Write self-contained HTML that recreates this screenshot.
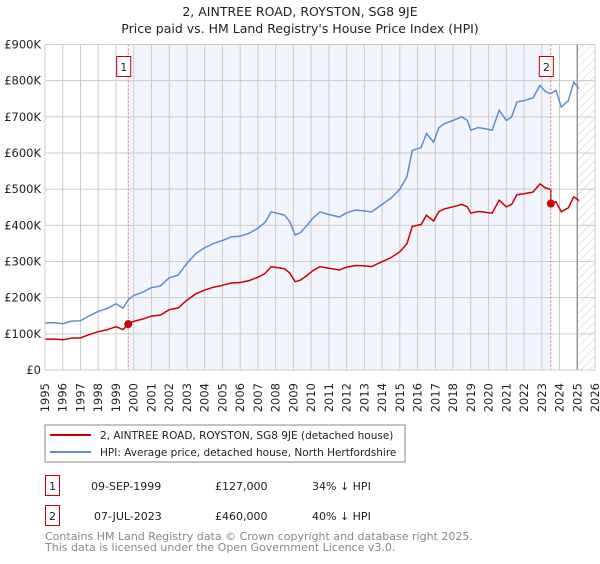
<!DOCTYPE html>
<html><head><meta charset="utf-8"><style>
body{margin:0;background:#fff;width:600px;height:560px;overflow:hidden;font-family:"DejaVu Sans","Liberation Sans",sans-serif}
svg text{font-family:"DejaVu Sans","Liberation Sans",sans-serif}
</style></head><body>
<svg id="c" width="600" height="560">
<defs><pattern id="hatch" width="6" height="6" patternUnits="userSpaceOnUse" patternTransform="rotate(45)"><line x1="0" y1="0" x2="0" y2="6" stroke="#ccc" stroke-width="1"/></pattern></defs>
<text x="300" y="16" text-anchor="middle" font-size="12.5" fill="#222">2, AINTREE ROAD, ROYSTON, SG8 9JE</text>
<text x="300" y="33" text-anchor="middle" font-size="12.5" fill="#222">Price paid vs. HM Land Registry's House Price Index (HPI)</text>
<g id="plot"></g>
<rect x="45" y="425" width="360" height="37" fill="#fff" stroke="#888"/>
<line x1="50" y1="435" x2="91" y2="435" stroke="#cc0000" stroke-width="2"/>
<text x="100" y="439" font-size="10.5" fill="#222">2, AINTREE ROAD, ROYSTON, SG8 9JE (detached house)</text>
<line x1="50" y1="452" x2="91" y2="452" stroke="#5b8fd0" stroke-width="2"/>
<text x="100" y="456" font-size="10.5" fill="#222">HPI: Average price, detached house, North Hertfordshire</text>
<g>
<rect x="45.5" y="475.5" width="14" height="20" fill="#fff" stroke="#cc0000"/>
<text x="52.5" y="490" text-anchor="middle" font-size="11" fill="#222">1</text>
<text x="91" y="490" font-size="11" fill="#222">09-SEP-1999</text>
<text x="215" y="490" font-size="11" fill="#222">£127,000</text>
<text x="312" y="490" font-size="11" fill="#222">34% ↓ HPI</text></g>
<g>
<rect x="45.5" y="505.5" width="14" height="20" fill="#fff" stroke="#cc0000"/>
<text x="52.5" y="520" text-anchor="middle" font-size="11" fill="#222">2</text>
<text x="94" y="520" font-size="11" fill="#222">07-JUL-2023</text>
<text x="215" y="520" font-size="11" fill="#222">£460,000</text>
<text x="312" y="520" font-size="11" fill="#222">40% ↓ HPI</text></g>
<text x="45" y="540" font-size="11" fill="#888">Contains HM Land Registry data © Crown copyright and database right 2025.</text>
<text x="45" y="551" font-size="11" fill="#888">This data is licensed under the Open Government Licence v3.0.</text>
</svg>
<script>
const hpiYears=[1995.0,1995.5,1996.0,1996.5,1997.0,1997.5,1998.0,1998.5,1999.0,1999.4,1999.7,2000.0,2000.5,2001.0,2001.5,2002.0,2002.5,2003.0,2003.5,2004.0,2004.5,2005.0,2005.5,2006.0,2006.5,2007.0,2007.4,2007.75,2008.2,2008.5,2008.8,2009.1,2009.4,2009.7,2010.1,2010.5,2011.0,2011.6,2012.0,2012.5,2013.0,2013.4,2014.0,2014.5,2015.0,2015.4,2015.7,2016.2,2016.5,2016.9,2017.2,2017.5,2018.0,2018.5,2018.8,2019.0,2019.4,2019.7,2020.2,2020.6,2021.0,2021.3,2021.6,2022.0,2022.5,2022.9,2023.2,2023.5,2023.8,2024.1,2024.5,2024.8,2025.1];
const hpiValues=[130,131,128,135,136,150,162,170,183,171,195,206,215,228,232,255,262,295,322,338,350,358,368,370,378,392,408,437,432,428,410,373,380,396,420,437,430,423,435,442,440,437,458,475,500,534,607,615,654,630,670,681,690,700,690,663,670,668,663,718,690,700,741,745,752,787,770,764,773,727,745,796,778];
const saleYears=[1999.69,2023.51];
const salePrices=[127,460];
const yTicks=[0,100,200,300,400,500,600,700,800,900];
const yTickLabels=["£0","£100K","£200K","£300K","£400K","£500K","£600K","£700K","£800K","£900K"];
const xTicks=[1995,1996,1997,1998,1999,2000,2001,2002,2003,2004,2005,2006,2007,2008,2009,2010,2011,2012,2013,2014,2015,2016,2017,2018,2019,2020,2021,2022,2023,2024,2025,2026];
const X0=45,X1=595,Y0=370,Y1=44.5;
const xs=y=>X0+(y-1995)/(2026-1995)*(X1-X0);
const ys=v=>Y0-v/900*(Y0-Y1);
const NS='http://www.w3.org/2000/svg';
const g=document.getElementById('plot');
function mk(t,a,p){const e=document.createElementNS(NS,t);for(const k in a)e.setAttribute(k,a[k]);(p||g).appendChild(e);return e;}
function hpiAt(t){for(let i=0;i<hpiYears.length-1;i++){if(t<=hpiYears[i+1]){const f=(t-hpiYears[i])/(hpiYears[i+1]-hpiYears[i]);return hpiValues[i]+f*(hpiValues[i+1]-hpiValues[i]);}}return hpiValues[hpiValues.length-1];}
let r=mk('rect',{x:xs(saleYears[0]),y:Y1,width:xs(saleYears[1])-xs(saleYears[0]),height:Y0-Y1,fill:'#f2f5fd'});


let h=mk('rect',{x:xs(2025),y:Y1,width:X1-xs(2025),height:Y0-Y1,fill:'url(#hatch)'});


yTicks.forEach((v,i)=>{let l=mk('line',{x1:X0,x2:X1,y1:ys(v),y2:ys(v),stroke:'#ccc'});


let t=mk('text',{x:X0-4,y:ys(v)+4,'text-anchor':'end','font-size':'11.5',fill:'#222'});t.textContent=yTickLabels[i];

});
xTicks.forEach(y=>{let l=mk('line',{x1:xs(y),x2:xs(y),y1:Y1,y2:Y0,stroke:'#ccc'});


let t=mk('text',{x:0,y:0,'text-anchor':'end','font-size':'11.5',fill:'#222',transform:`translate(${xs(y)+4},383) rotate(-90)`});t.textContent=y;

});
let ax=mk('line',{x1:xs(2025),x2:xs(2025),y1:Y1,y2:Y0,stroke:'#999','stroke-width':1.5});


let hp=mk('polyline',{fill:'none',stroke:'#5b8fd0','stroke-width':1.5,points:hpiYears.map((y,i)=>xs(y)+','+ys(hpiValues[i])).join(' ')});


const r1=salePrices[0]/hpiAt(saleYears[0]),r2=salePrices[1]/hpiAt(saleYears[1]);
const pts=[];
hpiYears.forEach((y,i)=>{if(y<saleYears[1])pts.push([y,hpiValues[i]*r1]);});
pts.push([saleYears[1],hpiAt(saleYears[1])*r1]);pts.push([saleYears[1],salePrices[1]]);
hpiYears.forEach((y,i)=>{if(y>saleYears[1])pts.push([y,hpiValues[i]*r2]);});
let pp=mk('polyline',{fill:'none',stroke:'#cc0000','stroke-width':1.5,points:pts.map(p=>xs(p[0])+','+ys(p[1])).join(' ')});


saleYears.forEach((y,i)=>{
let v=mk('line',{x1:xs(y),x2:xs(y),y1:Y1,y2:Y0,stroke:'#f07070','stroke-dasharray':'2,2'});


let c=mk('circle',{cx:xs(y),cy:ys(salePrices[i]),r:4,fill:'#cc0000'});


let b=mk('rect',{x:xs(y)-11.5,y:56.5,width:14,height:20,fill:'#fff',stroke:'#cc0000'});


let t=mk('text',{x:xs(y)-4.5,y:71,'text-anchor':'middle','font-size':'11',fill:'#222'});t.textContent=String(i+1);

});
let f=mk('rect',{x:X0,y:Y1,width:X1-X0,height:Y0-Y1,fill:'none',stroke:'#ccc'});


</script>
</body></html>
